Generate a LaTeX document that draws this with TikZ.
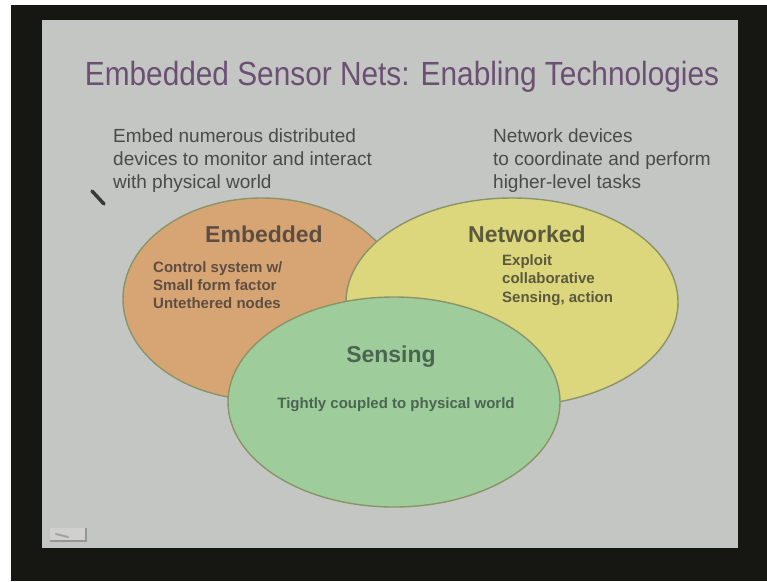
\documentclass[tikz,border=0pt]{standalone}
\usepackage{fontspec}
\setmainfont{Liberation Sans}
\usetikzlibrary{shapes.geometric}

\definecolor{framedark}{HTML}{161713}
\definecolor{slidegray}{HTML}{C4C6C3}
\definecolor{titlepurple}{HTML}{6B5074}
\definecolor{bodygray}{HTML}{4A4A4A}
\definecolor{embfill}{HTML}{D7A574}
\definecolor{netfill}{HTML}{DCD67C}
\definecolor{senfill}{HTML}{9FCC9B}
\definecolor{blobline}{HTML}{8A9468}
\definecolor{embtext}{HTML}{5E4E42}
\definecolor{nettext}{HTML}{5C5A3E}
\definecolor{sentext}{HTML}{4A6550}

\tikzset{
  titletext/.style={anchor=base, inner sep=0pt, text=titlepurple,
    font=\fontsize{33.5}{40}\selectfont},
  bodytext/.style={anchor=base west, inner sep=0pt, text=bodygray,
    font=\fontsize{19}{23}\selectfont},
  blob/.style={ellipse, draw=blobline, line width=1.4pt, inner sep=0pt},
  bloblabel/.style={anchor=base, inner sep=0pt,
    font=\fontsize{23}{27}\selectfont\bfseries},
  blobnote/.style={anchor=base west, inner sep=0pt,
    font=\fontsize{15}{18}\selectfont\bfseries},
}

\begin{document}
\begin{tikzpicture}[x=1pt, y=-1pt]
  \useasboundingbox (0,0) rectangle (767,581);

  % screen surround and slide
  \fill[white] (0,0) rectangle (767,581);
  \fill[framedark] (11,5) rectangle (767,581);
  \fill[slidegray] (42,20) rectangle (738,548);

  % heading
  \node[titletext] (title) at (402,85)
    {\scalebox{0.89}[1]{Embedded Sensor Nets: Enabling Technologies}};

  % left and right captions
  \foreach \t [count=\i] in {Embed numerous distributed,
      devices to monitor and interact, with physical world}
    \node[bodytext] (leftline\i) at (113,{142+23*(\i-1)}) {\t};
  \foreach \t [count=\i] in {Network devices,
      to coordinate and perform, higher-level tasks}
    \node[bodytext] (rightline\i) at (493,{142+23*(\i-1)}) {\t};

  % pointer mark
  \draw[line width=3.5pt, color=framedark!85, line cap=round]
    (92,191) -- (104,204);

  % the three overlapping areas
  \node[blob, fill=embfill, minimum width=278pt, minimum height=202pt]
    (embedded) at (262,299) {};
  \node[blob, fill=netfill, minimum width=332pt, minimum height=208pt]
    (networked) at (512,302) {};
  \node[blob, fill=senfill, minimum width=332pt, minimum height=210pt]
    (sensing) at (394,402) {};

  % labels inside the areas
  \node[bloblabel, text=embtext] (embedlabel) at (264,242) {Embedded};
  \foreach \t [count=\i] in {Control system w/, Small form factor,
      Untethered nodes}
    \node[blobnote, text=embtext] (embnote\i) at (153,{272+18*(\i-1)}) {\t};

  \node[bloblabel, text=nettext] (netlabel) at (527,242) {Networked};
  \foreach \t [count=\i] in {Exploit, collaborative, {Sensing, action}}
    \node[blobnote, text=nettext] (netnote\i) at (502,{265+18.5*(\i-1)}) {\t};

  \node[bloblabel, text=sentext] (senlabel) at (391,362) {Sensing};
  \node[blobnote, anchor=base, text=sentext] (sennote) at (396,408)
    {Tightly coupled to physical world};

  % slide number mark
  \fill[slidegray!80!white] (50,528) rectangle (87,542);
  \draw[framedark!45, line width=1.2pt] (86,528) -- (86,541) -- (50,541);
  \draw[framedark!40, line width=2pt, line cap=round] (56,534) -- (68,537);
\end{tikzpicture}
\end{document}
